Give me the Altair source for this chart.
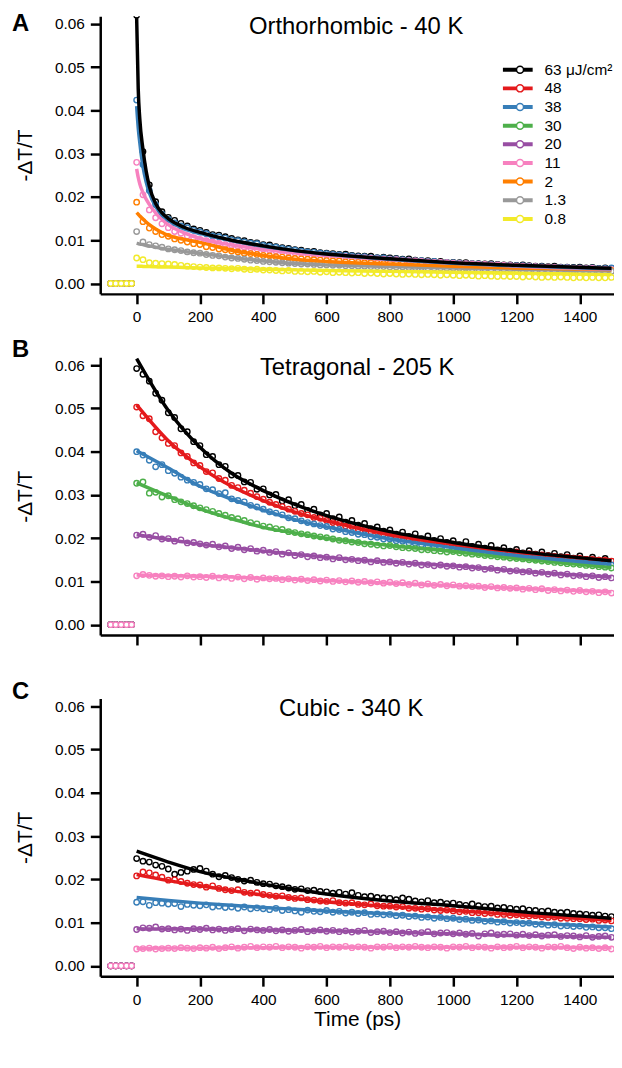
import altair as alt
import pandas as pd

FONT = "Liberation Sans"
UNIT = 1e-3  # all values below are in units of 10^-3 (-dT/T)

FLUENCES = ["63", "48", "38", "30", "20", "11", "2", "1.3", "0.8"]
COLORS = ["#000000", "#e41a1c", "#377eb8", "#4daf4a", "#984ea3",
          "#f781bf", "#ff7f00", "#999999", "#f2ea2a"]
PT_KEYS = ["pt " + f for f in FLUENCES]   # keys of the marker legend

X_TICKS = [0, 200, 400, 600, 800, 1000, 1200, 1400]
Y_TICKS = [0.0, 0.01, 0.02, 0.03, 0.04, 0.05, 0.06]

PRE_T = [-82, -66, -49, -32, -16]          # points before time zero (value 0)
T_DATA = list(range(0, 1501, 20))           # sampling times of the measured points

# ---------------- Panel A : Orthorhombic - 40 K ----------------
A_63 = [62.0, 30.5, 22.8, 18.9, 16.6, 15.3, 14.6, 13.9, 13.3, 12.6,
        12.3, 11.8, 11.3, 11.2, 10.8, 10.4, 10.1, 9.9, 9.5, 9.4,
        9.0, 8.9, 8.5, 8.3, 8.1, 7.8, 7.7, 7.4, 7.4, 7.1,
        7.0, 6.9, 6.7, 6.8, 6.5, 6.4, 6.3, 6.3, 6.0, 6.1,
        5.9, 5.8, 5.6, 5.7, 5.4, 5.3, 5.3, 5.1, 5.1, 4.9,
        4.9, 4.8, 4.8, 4.6, 4.6, 4.5, 4.6, 4.4, 4.3, 4.3,
        4.2, 4.3, 4.1, 4.0, 4.0, 3.9, 4.0, 3.8, 3.8, 3.7,
        3.8, 3.6, 3.7, 3.5, 3.6, 3.5]
A_38 = [42.4, 27.5, 21.5, 18.2, 16.0, 14.9, 14.0, 13.3, 12.9, 12.3,
        11.9, 11.5, 11.0, 10.8, 10.5, 10.1, 9.9, 9.6, 9.3, 9.2,
        8.8, 8.6, 8.4, 8.1, 7.9, 7.7, 7.5, 7.3, 7.2, 7.0,
        6.9, 6.7, 6.6, 6.5, 6.4, 6.2, 6.2, 6.0, 5.9, 5.9,
        5.7, 5.7, 5.5, 5.4, 5.3, 5.3, 5.1, 5.1, 4.9, 4.9,
        4.8, 4.7, 4.6, 4.6, 4.5, 4.4, 4.4, 4.3, 4.2, 4.2,
        4.1, 4.1, 4.0, 3.9, 3.9, 3.8, 3.8, 3.7, 3.7, 3.6,
        3.6, 3.5, 3.6, 3.4, 3.5, 3.6]
A_11 = [28.0, 20.5, 17.0, 15.2, 13.8, 12.9, 12.0, 11.6, 11.0, 10.6,
        10.2, 9.9, 9.6, 9.3, 9.0, 8.8, 8.6, 8.4, 8.2, 8.0,
        7.9, 7.7, 7.5, 7.4, 7.3, 7.1, 7.0, 6.9, 6.7, 6.6,
        6.5, 6.4, 6.3, 6.2, 6.1, 6.0, 5.9, 5.8, 5.7, 5.6,
        5.5, 5.5, 5.3, 5.3, 5.2, 5.1, 5.0, 4.9, 4.9, 4.8,
        4.7, 4.6, 4.6, 4.5, 4.4, 4.4, 4.3, 4.3, 4.2, 4.1,
        4.0, 4.0, 3.9, 3.9, 3.8, 3.8, 3.7, 3.6, 3.6, 3.5,
        3.5, 3.4, 3.5, 3.3, 3.3, 3.2]
A_2 = [18.8, 14.3, 12.8, 12.0, 11.3, 10.9, 10.3, 10.0, 9.6, 9.2,
       9.0, 8.5, 8.3, 8.0, 7.8, 7.5, 7.3, 7.0, 6.9, 6.7,
       6.5, 6.4, 6.2, 6.1, 5.9, 5.8, 5.7, 5.6, 5.5, 5.4,
       5.3, 5.2, 5.2, 5.0, 5.0, 4.9, 4.8, 4.8, 4.7, 4.6,
       4.6, 4.5, 4.5, 4.4, 4.3, 4.3, 4.2, 4.2, 4.1, 4.1,
       4.0, 4.0, 3.9, 3.9, 3.8, 3.8, 3.7, 3.7, 3.6, 3.6,
       3.6, 3.5, 3.5, 3.4, 3.4, 3.4, 3.3, 3.3, 3.2, 3.2,
       3.2, 3.1, 3.1, 3.1, 3.0, 3.0]
A_1p3 = [12.0, 9.6, 9.0, 8.7, 8.4, 8.0, 7.8, 7.6, 7.3, 7.1,
         7.0, 6.7, 6.5, 6.4, 6.1, 5.9, 5.8, 5.6, 5.4, 5.3,
         5.1, 5.0, 4.9, 4.8, 4.7, 4.6, 4.5, 4.5, 4.4, 4.3,
         4.3, 4.2, 4.2, 4.1, 4.1, 4.0, 4.0, 3.9, 3.9, 3.9,
         3.8, 3.8, 3.8, 3.7, 3.7, 3.7, 3.6, 3.6, 3.6, 3.5,
         3.5, 3.5, 3.5, 3.4, 3.4, 3.4, 3.3, 3.3, 3.3, 3.3,
         3.2, 3.2, 3.2, 3.1, 3.1, 3.1, 3.0, 3.0, 3.0, 3.0,
         2.9, 2.9, 2.9, 2.9, 2.8, 2.8]
A_0p8 = [5.9, 5.5, 4.8, 4.7, 4.6, 4.5, 4.4, 4.2, 4.0, 3.9,
         3.8, 3.7, 3.6, 3.6, 3.5, 3.4, 3.5, 3.3, 3.2, 3.3,
         3.1, 3.1, 3.0, 2.9, 3.0, 2.8, 2.8, 2.7, 2.8, 2.6,
         2.7, 2.5, 2.6, 2.5, 2.4, 2.5, 2.3, 2.4, 2.3, 2.2,
         2.3, 2.2, 2.1, 2.2, 2.1, 2.0, 2.1, 2.0, 1.9, 2.0,
         1.9, 1.8, 1.9, 1.8, 1.7, 1.8, 1.7, 1.6, 1.7, 1.6,
         1.6, 1.5, 1.6, 1.5, 1.4, 1.5, 1.4, 1.5, 1.4, 1.3,
         1.4, 1.3, 1.4, 1.3, 1.3, 1.4]

FIT_T_A = [0, 5, 10, 20, 30, 40, 60, 80, 100, 150, 200, 300, 400, 500, 600, 800, 1000, 1200, 1500]
FA_63 = [61.5, 45, 38, 31, 26, 22.5, 18.5, 16.3, 15.0, 13.0, 11.8, 10.0, 8.7, 7.6, 6.8, 5.7, 4.8, 4.2, 3.5]
FA_38 = [41, 36, 32.5, 27, 23.5, 21, 17.8, 15.8, 14.6, 12.6, 11.6, 9.9, 8.6, 7.6, 6.8, 5.6, 4.7, 4.1, 3.4]
FA_11 = [26.5, 24.5, 23, 21, 19.5, 18.3, 16.3, 14.8, 13.6, 11.7, 10.4, 8.9, 7.9, 7.1, 6.5, 5.5, 4.7, 4.0, 3.3]
FA_2 = [16.4, 16.0, 15.6, 14.9, 14.2, 13.6, 12.6, 11.8, 11.1, 10.2, 9.5, 7.7, 6.5, 5.6, 5.1, 4.5, 4.0, 3.6, 3.2]
FA_1p3 = [9.3, 9.2, 9.1, 9.0, 8.8, 8.7, 8.4, 8.1, 7.9, 7.4, 7.0, 6.0, 5.2, 4.6, 4.3, 3.9, 3.6, 3.3, 2.9]
FA_0p8 = [4.0, 4.0, 4.0, 3.95, 3.9, 3.9, 3.85, 3.8, 3.8, 3.7, 3.6, 3.45, 3.3, 3.15, 3.0, 2.8, 2.6, 2.4, 2.1]

# ---------------- Panel B : Tetragonal - 205 K ----------------
B_63 = [59.2, 57.9, 56.3, 53.5, 51.9, 49.0, 47.9, 45.3, 44.6, 42.3,
        41.4, 39.3, 38.9, 37.0, 36.6, 34.6, 34.5, 33.0, 32.9, 31.3,
        31.4, 30.0, 30.1, 28.6, 28.9, 27.5, 27.8, 26.4, 26.7, 25.4,
        25.7, 24.5, 24.9, 23.7, 24.1, 23.0, 23.4, 22.2, 22.6, 21.6,
        21.9, 20.9, 21.4, 20.4, 21.0, 19.9, 20.5, 19.5, 19.9, 19.0,
        19.4, 18.5, 19.2, 18.1, 18.6, 17.7, 18.3, 17.3, 17.8, 17.0,
        17.4, 16.6, 17.1, 16.3, 16.8, 16.0, 16.5, 15.7, 16.2, 15.4,
        15.9, 15.1, 15.6, 14.9, 15.3, 14.6]
B_48 = [50.3, 48.3, 47.6, 44.6, 43.2, 41.9, 41.4, 39.7, 38.9, 37.4,
        36.8, 35.4, 35.1, 33.8, 33.4, 32.2, 31.7, 31.1, 30.4, 29.6,
        29.0, 28.3, 27.8, 27.3, 26.7, 26.2, 25.7, 25.4, 24.8, 24.6,
        24.1, 23.6, 23.4, 22.8, 22.7, 22.1, 22.0, 21.5, 21.4, 20.9,
        20.9, 20.4, 20.3, 19.9, 19.8, 19.4, 19.3, 19.0, 18.9, 18.5,
        18.6, 18.2, 18.1, 17.8, 17.7, 17.4, 17.3, 17.1, 17.0, 16.7,
        16.8, 16.5, 16.4, 16.2, 16.1, 15.9, 15.8, 15.6, 15.6, 15.3,
        15.3, 15.1, 15.1, 14.9, 14.9, 14.7]
B_38 = [40.0, 39.2, 38.0, 36.5, 37.0, 35.6, 35.0, 34.1, 33.4, 32.9,
        32.4, 31.4, 31.2, 30.3, 30.5, 29.1, 28.7, 28.4, 27.6, 27.2,
        26.7, 26.1, 25.8, 25.4, 24.7, 24.5, 24.0, 23.6, 23.3, 22.9,
        22.7, 22.1, 22.0, 21.5, 21.3, 20.9, 20.8, 20.3, 20.2, 19.8,
        19.8, 19.4, 19.3, 18.9, 18.8, 18.5, 18.3, 18.1, 17.9, 17.6,
        17.8, 17.4, 17.2, 17.0, 16.9, 16.6, 16.6, 16.3, 16.2, 15.9,
        16.0, 15.7, 15.6, 15.4, 15.3, 15.0, 15.0, 14.8, 14.7, 14.4,
        14.5, 14.2, 14.2, 14.0, 14.0, 13.8]
B_30 = [32.7, 33.0, 30.4, 30.6, 29.5, 29.8, 28.9, 28.4, 28.0, 27.5,
        27.0, 26.6, 26.2, 25.7, 25.3, 24.8, 24.5, 24.1, 23.6, 23.3,
        22.8, 22.6, 22.2, 22.0, 21.5, 21.3, 21.0, 20.8, 20.5, 20.3,
        20.1, 19.8, 19.5, 19.4, 19.1, 19.0, 18.7, 18.6, 18.4, 18.2,
        18.3, 18.0, 17.8, 17.7, 17.6, 17.3, 17.3, 17.1, 17.0, 16.8,
        16.9, 16.6, 16.5, 16.3, 16.2, 16.0, 15.9, 15.7, 15.6, 15.4,
        15.3, 15.2, 15.0, 14.9, 14.7, 14.6, 14.4, 14.3, 14.1, 14.0,
        13.9, 13.7, 13.6, 13.4, 13.3, 13.1]
B_20 = [20.7, 20.9, 20.2, 20.6, 19.8, 19.9, 19.3, 19.6, 18.9, 19.0,
        18.7, 18.4, 18.6, 18.0, 18.2, 17.6, 17.9, 17.3, 17.6, 17.0,
        17.2, 16.7, 16.9, 16.3, 16.6, 16.0, 16.2, 15.7, 15.9, 15.5,
        15.6, 15.2, 15.5, 15.0, 15.1, 14.8, 14.9, 14.5, 14.8, 14.4,
        14.5, 14.2, 14.4, 14.0, 14.2, 13.8, 13.9, 13.6, 13.8, 13.5,
        13.6, 13.3, 13.4, 13.1, 13.2, 12.8, 13.0, 12.6, 12.8, 12.4,
        12.5, 12.2, 12.3, 11.9, 12.1, 11.7, 11.9, 11.5, 11.7, 11.3,
        11.4, 11.1, 11.3, 10.9, 11.1, 10.8]
B_11 = [11.3, 11.6, 11.4, 11.2, 11.3, 11.1, 11.2, 11.0, 11.3, 11.0,
        11.1, 10.9, 11.2, 10.8, 11.0, 10.7, 11.0, 10.6, 10.9, 10.5,
        10.8, 10.6, 10.7, 10.4, 10.6, 10.3, 10.5, 10.2, 10.4, 10.1,
        10.3, 10.0, 10.2, 9.9, 10.1, 9.8, 10.0, 9.7, 9.9, 9.6,
        9.8, 9.5, 9.7, 9.3, 9.6, 9.2, 9.4, 9.1, 9.3, 9.0,
        9.2, 8.9, 9.0, 8.8, 8.9, 8.6, 8.8, 8.5, 8.6, 8.4,
        8.5, 8.2, 8.4, 8.1, 8.3, 7.9, 8.1, 7.8, 8.0, 7.7,
        7.9, 7.6, 7.7, 7.4, 7.6, 7.3]

FIT_T_BC = [0, 100, 200, 300, 400, 500, 600, 800, 1000, 1200, 1500]
FB_63 = [61.5, 49.5, 41.0, 35.0, 31.0, 27.8, 25.2, 21.5, 19.0, 17.0, 14.8]
FB_48 = [50.8, 42.5, 36.5, 32.0, 28.7, 26.0, 24.0, 20.8, 18.6, 16.8, 14.9]
FB_38 = [40.2, 36.2, 32.0, 29.0, 26.5, 24.3, 22.6, 19.8, 17.8, 16.0, 14.0]
FB_30 = [32.8, 29.7, 26.8, 24.5, 22.5, 21.2, 20.0, 18.3, 16.9, 15.3, 13.2]
FB_20 = [20.8, 19.7, 18.6, 17.8, 17.0, 16.3, 15.6, 14.5, 13.6, 12.4, 11.0]
FB_11 = [11.5, 11.3, 11.2, 11.0, 10.7, 10.5, 10.2, 9.6, 9.0, 8.4, 7.6]

# ---------------- Panel C : Cubic - 340 K ----------------
C_63 = [24.8, 24.2, 24.0, 23.3, 23.0, 22.4, 21.2, 21.6, 21.9, 22.3,
        22.5, 21.9, 21.2, 20.6, 20.9, 20.4, 20.0, 19.6, 19.8, 19.3,
        19.0, 18.9, 18.5, 18.3, 18.0, 17.7, 17.8, 17.4, 17.5, 17.2,
        17.1, 16.8, 17.0, 16.6, 16.9, 16.3, 16.0, 16.1, 15.8, 15.7,
        15.6, 15.3, 15.7, 15.4, 15.0, 14.8, 15.1, 14.6, 14.7, 14.4,
        14.5, 14.2, 14.0, 14.3, 13.9, 13.7, 13.8, 13.4, 13.5, 13.3,
        13.1, 13.2, 12.9, 12.8, 12.6, 12.7, 12.4, 12.3, 12.4, 12.1,
        12.0, 11.9, 11.7, 11.8, 11.5, 11.4]
C_48 = [20.8, 21.7, 21.5, 21.0, 20.5, 19.8, 19.9, 19.5, 19.1, 18.8,
        18.7, 18.2, 18.5, 17.9, 17.6, 17.4, 17.6, 17.0, 16.8, 16.9,
        16.5, 16.3, 16.1, 16.2, 15.8, 15.6, 15.7, 15.3, 15.2, 15.0,
        14.9, 15.1, 14.6, 14.5, 14.6, 14.2, 14.1, 14.3, 13.9, 13.8,
        13.8, 13.6, 13.7, 13.3, 13.3, 13.1, 13.2, 12.9, 12.8, 12.9,
        12.7, 12.5, 12.6, 12.3, 12.3, 12.1, 12.2, 11.9, 11.9, 11.7,
        11.8, 11.6, 11.5, 11.6, 11.3, 11.2, 11.3, 11.0, 11.0, 10.9,
        10.9, 10.7, 10.8, 10.5, 10.6, 10.4]
C_38 = [14.7, 14.8, 14.0, 14.6, 14.5, 14.3, 14.4, 13.7, 14.2, 14.0,
        13.9, 14.1, 13.6, 13.8, 13.5, 13.6, 13.3, 13.6, 13.2, 13.4,
        13.2, 13.0, 13.3, 12.8, 13.0, 12.7, 12.4, 12.9, 12.6, 12.5,
        12.8, 12.4, 12.6, 12.2, 12.4, 12.1, 12.3, 11.9, 12.0, 11.8,
        11.9, 11.6, 11.7, 11.4, 11.5, 11.2, 11.3, 11.0, 11.2, 10.9,
        11.0, 10.7, 10.8, 10.5, 10.6, 10.3, 10.4, 10.1, 10.2, 9.9,
        10.0, 9.8, 9.9, 9.6, 9.6, 9.4, 9.5, 9.2, 9.3, 9.1,
        9.2, 8.9, 9.0, 8.8, 8.8, 8.6]
C_20 = [8.4, 8.8, 8.7, 9.0, 8.5, 8.6, 8.3, 8.5, 8.2, 8.6,
        8.4, 8.7, 8.3, 8.5, 8.2, 8.4, 8.6, 8.1, 8.5, 8.3,
        8.2, 8.4, 8.1, 8.3, 8.0, 8.2, 8.4, 7.9, 8.1, 8.3,
        8.0, 8.2, 7.9, 8.1, 7.8, 8.0, 8.2, 7.7, 7.9, 8.0,
        7.7, 7.9, 7.6, 7.8, 7.5, 7.7, 7.9, 7.4, 7.6, 7.7,
        7.4, 7.6, 7.3, 7.5, 6.9, 7.4, 7.6, 7.2, 7.3, 7.4,
        7.1, 7.3, 7.0, 7.2, 6.9, 7.1, 7.2, 6.8, 7.0, 6.9,
        6.7, 7.0, 6.6, 6.8, 6.9, 6.6]
C_11 = [3.9, 4.0, 4.1, 3.9, 4.0, 4.1, 4.0, 4.2, 4.1, 4.0,
        4.2, 4.1, 4.3, 4.0, 4.2, 4.4, 4.1, 4.3, 4.5, 4.2,
        4.4, 4.3, 4.5, 4.2, 4.4, 4.3, 4.1, 4.4, 4.3, 4.5,
        4.2, 4.4, 4.3, 4.5, 4.2, 4.4, 4.3, 4.1, 4.4, 4.3,
        4.5, 4.2, 4.4, 4.3, 4.5, 4.3, 4.2, 4.4, 4.3, 4.1,
        4.4, 4.3, 4.5, 4.2, 4.4, 4.3, 4.1, 4.4, 4.2, 4.3,
        4.5, 4.2, 4.4, 4.3, 4.1, 4.4, 4.3, 4.5, 4.2, 4.0,
        4.3, 4.1, 4.2, 4.0, 4.2, 3.9]

FC_63 = [26.5, 24.0, 21.8, 20.3, 18.9, 17.7, 16.6, 15.0, 13.9, 12.6, 11.0]
FC_48 = [21.1, 19.7, 18.5, 17.4, 16.4, 15.6, 14.8, 13.7, 12.8, 11.8, 10.5]
FC_38 = [15.8, 15.1, 14.5, 14.0, 13.5, 13.1, 12.7, 12.0, 11.0, 10.1, 9.0]
FC_20 = [8.6, 8.5, 8.5, 8.4, 8.3, 8.2, 8.1, 7.8, 7.4, 7.0, 6.6]
FC_11 = [4.0, 4.1, 4.1, 4.2, 4.2, 4.3, 4.3, 4.3, 4.3, 4.3, 4.2]

PANELS = [
    dict(letter="A", title="Orthorhombic - 40 K", title_x=258, letter_y=15,
         data={"63": A_63, "38": A_38, "11": A_11, "2": A_2, "1.3": A_1p3, "0.8": A_0p8},
         fit_t=FIT_T_A,
         fits={"63": FA_63, "38": FA_38, "11": FA_11, "2": FA_2, "1.3": FA_1p3, "0.8": FA_0p8},
         labels=True, xtitle=None, legend=True),
    dict(letter="B", title="Tetragonal - 205 K", title_x=259, letter_y=0,
         data={"63": B_63, "48": B_48, "38": B_38, "30": B_30, "20": B_20, "11": B_11},
         fit_t=FIT_T_BC,
         fits={"63": FB_63, "48": FB_48, "38": FB_38, "30": FB_30, "20": FB_20, "11": FB_11},
         labels=False, xtitle=None, legend=False),
    dict(letter="C", title="Cubic - 340 K", title_x=253, letter_y=0,
         data={"63": C_63, "48": C_48, "38": C_38, "20": C_20, "11": C_11},
         fit_t=FIT_T_BC,
         fits={"63": FC_63, "48": FC_48, "38": FC_38, "20": FC_20, "11": FC_11},
         labels=True, xtitle="Time (ps)", legend=False),
]

W, H = 518, 280
X_DOMAIN = [-115, 1508]
Y_DOMAIN = [-0.0024, 0.0618]
LEG_Y = 46

LEGEND_LABELS = "datum.label == '63' ? '63 μJ/cm²' : datum.label"


def make_panel(p):
    rows = []
    for f in FLUENCES:
        if f in p["data"]:
            for t in PRE_T:
                rows.append({"t": t, "v": 0.0, "f": f})
            for t, v in zip(T_DATA, p["data"][f]):
                rows.append({"t": t, "v": v * UNIT, "f": f})
    pts = pd.DataFrame(rows)

    frows = []
    for f in reversed(FLUENCES):  # black drawn last (on top)
        if f in p["fits"]:
            for t, v in zip(p["fit_t"], p["fits"][f]):
                frows.append({"t": t, "v": v * UNIT, "f": f})
    fits = pd.DataFrame(frows)

    x_axis = alt.Axis(values=X_TICKS, format="d", labels=p["labels"],
                      title=p["xtitle"], labelPadding=6, titlePadding=1)
    x = alt.X("t:Q", scale=alt.Scale(domain=X_DOMAIN, nice=False, zero=False), axis=x_axis)
    y = alt.Y("v:Q", scale=alt.Scale(domain=Y_DOMAIN, nice=False, zero=False),
              axis=alt.Axis(values=Y_TICKS, format=".2f", title="-ΔT/T",
                            labelPadding=6, titlePadding=19))

    cscale = alt.Scale(domain=FLUENCES, range=COLORS)

    if p["legend"]:
        line_leg = alt.Legend(orient="none", legendX=404, legendY=LEG_Y, title=None,
                              symbolType="stroke", symbolSize=900, symbolStrokeWidth=4,
                              clipHeight=16, rowPadding=1.8, padding=0,
                              labelFont=FONT, labelFontSize=15.5, labelColor="black",
                              labelOffset=10, labelExpr=LEGEND_LABELS)
    else:
        line_leg = None

    circles = alt.Chart(pts).mark_point(
        shape="circle", filled=False, fill="white", size=30, strokeWidth=1.4, opacity=1,
        clip=True
    ).encode(x=x, y=y, color=alt.Color("f:N", scale=cscale, legend=line_leg))

    lines = alt.Chart(fits).mark_line(strokeWidth=3.5, interpolate="monotone", clip=True).encode(
        x=x, y=y, color=alt.Color("f:N", scale=cscale, legend=line_leg))

    layers = [circles, lines]

    if p["legend"]:
        pt_leg = alt.Legend(orient="none", legendX=415.5, legendY=LEG_Y, title=None,
                            symbolType="circle", symbolSize=50, symbolStrokeWidth=1.5,
                            symbolFillColor="white", symbolOpacity=1,
                            clipHeight=16, rowPadding=1.8, padding=0,
                            labelFont=FONT, labelFontSize=15.5,
                            labelOffset=10, labelExpr="' '")
        marker_key = alt.Chart(pts).transform_filter("false").mark_point(
            shape="circle", filled=False, fill="white", strokeWidth=1.5, opacity=1
        ).encode(x=x, y=y,
                 stroke=alt.Stroke("f:N", scale=alt.Scale(domain=PT_KEYS, range=COLORS),
                                   legend=pt_leg))
        layers.append(marker_key)

    letter = alt.Chart(pd.DataFrame({"s": [p["letter"]]})).mark_text(
        font=FONT, fontSize=24, fontWeight="bold", align="left", baseline="alphabetic",
        color="black"
    ).encode(x=alt.value(-89), y=alt.value(p["letter_y"]), text="s:N")

    title = alt.Chart(pd.DataFrame({"s": [p["title"]]})).mark_text(
        font=FONT, fontSize=24, align="center", baseline="alphabetic", color="black"
    ).encode(x=alt.value(p["title_x"]), y=alt.value(18), text="s:N")

    layers += [letter, title]
    return alt.layer(*layers).properties(width=W, height=H)


chart = alt.vconcat(*[make_panel(p) for p in PANELS], spacing=64, bounds="flush").resolve_scale(
    color="independent", stroke="independent"
).properties(
    padding={"left": 4, "top": 0, "right": 0, "bottom": 0}
).configure_view(stroke=None).configure_axis(
    domainColor="black", domainWidth=2.5, tickColor="black", tickWidth=2.5, tickSize=10,
    labelFont=FONT, labelFontSize=15.5, labelColor="black",
    titleFont=FONT, titleFontSize=21, titleFontWeight="normal", titleColor="black",
    grid=False
)

chart.save("out.html", embed_options={"renderer": "svg", "actions": False})
